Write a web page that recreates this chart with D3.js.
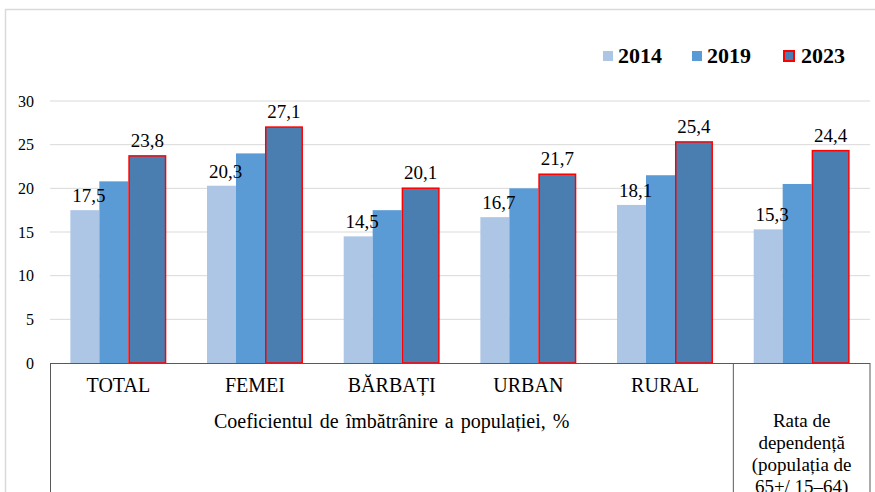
<!DOCTYPE html>
<html>
<head>
<meta charset="utf-8">
<script src="https://cdn.jsdelivr.net/npm/d3@7"></script>
<style>
  body { margin: 0; background: #fff; }
  svg { display: block; font-family: "Liberation Serif", "Times New Roman", serif; }
</style>
</head>
<body>
<svg id="chart" width="875" height="492"></svg>
<script>
// data
var categories = ["TOTAL", "FEMEI", "BĂRBAȚI", "URBAN", "RURAL", "Rata"];
var years = ["2014", "2019", "2023"];
var values2014 = [17.5, 20.3, 14.5, 16.7, 18.1, 15.3];
var values2019 = [20.8, 24.0, 17.5, 20.0, 21.5, 20.5];
var values2023 = [23.8, 27.1, 20.1, 21.7, 25.4, 24.4];
var yTicks = [0, 5, 10, 15, 20, 25, 30];
var groupTitle = "Coeficientul de îmbătrânire a populației, %";
var rataLines = ["Rata de", "dependență", "(populația de", "65+/ 15–64)"];

var series = [values2014, values2019, values2023];
var colors = ["#adc6e6", "#5b9bd5", "#4a7db0"];
var labelled = [true, false, true];

var svg = d3.select("#chart");
// note: "top" is taken by window.top, so plotTop
var left = 50, right = 870, plotTop = 101, base = 363;

/* outer chart frame (only top and left visible) */
svg.append("line").attr("x1", 5).attr("x2", 875).attr("y1", 9.5).attr("y2", 9.5)
    .attr("stroke", "#d9d9d9").attr("stroke-width", 1.5);
svg.append("line").attr("x1", 5.5).attr("x2", 5.5).attr("y1", 9).attr("y2", 492)
    .attr("stroke", "#d9d9d9").attr("stroke-width", 1.5);

var x0 = d3.scaleBand().domain(categories).range([left, right]).padding(0);
var y = d3.scaleLinear().domain([0, 30]).range([base, plotTop]);

// gridlines + tick labels
svg.append("g").selectAll("line").data(yTicks.filter(function (t) { return t > 0; }))
    .enter().append("line")
    .attr("x1", left).attr("x2", right)
    .attr("y1", function (d) { return y(d); }).attr("y2", function (d) { return y(d); })
    .attr("stroke", "#d9d9d9").attr("stroke-width", 1);

svg.append("g").selectAll("text").data(yTicks).enter().append("text")
    .attr("x", 34).attr("y", function (d) { return y(d) + 5.5; })
    .attr("text-anchor", "end").attr("font-size", 16).attr("fill", "#000")
    .text(function (d) { return d; });

/* bar widths inside a band: two narrow + one wide (2023) */
var bw = x0.bandwidth();
var widths = [0.212 * bw, 0.212 * bw, 0.278 * bw];
var groupW = d3.sum(widths);
function barX(cat, s) {
    return x0(cat) + (bw - groupW) / 2 + d3.sum(widths.slice(0, s));
}

var barsG = svg.append("g"), labelsG = svg.append("g");
series.forEach(function (vals, s) {
    barsG.append("g").selectAll("rect").data(vals).enter().append("rect")
        .attr("x", function (d, i) { return barX(categories[i], s) + (s == 2 ? 0.75 : 0); })
        .attr("width", widths[s] - (s == 2 ? 1.5 : 0))
        .attr("y", function (d) { return y(d) + (s == 2 ? 0.75 : 0); })
        .attr("height", function (d) { return base - y(d) - (s == 2 ? 0.75 : 0); })
        .attr("fill", colors[s])
        .attr("stroke", s == 2 ? "#ff0000" : "none")
        .attr("stroke-width", s == 2 ? 1.5 : 0);

    // labels go in their own group so they sit over the neighbouring bars
    if (labelled[s]) {
        labelsG.append("g").selectAll("text").data(vals).enter().append("text")
            .attr("x", function (d, i) { return barX(categories[i], s) + widths[s] / 2 + (s == 0 ? 4 : 0); })
            .attr("y", function (d) { return y(d) - 8; })
            .attr("text-anchor", "middle").attr("font-size", 19).attr("fill", "#000")
            .text(function (d) { return d3.format(".1f")(d).replace(".", ","); });
    }
});

// table under the axis
var divX = x0("Rata");
var tbl = svg.append("g").attr("stroke", "#595959").attr("stroke-width", 1).attr("fill", "none");
tbl.append("line").attr("x1", left).attr("x2", right).attr("y1", base + 0.5).attr("y2", base + 0.5);
[left + 0.5, divX, right].forEach(function (xx) {
    tbl.append("line").attr("x1", xx).attr("x2", xx).attr("y1", base).attr("y2", 492);
});

svg.append("g").selectAll("text").data(categories.slice(0, 5)).enter().append("text")
    .attr("x", function (d) { return x0(d) + bw / 2; })
    .attr("y", 392).attr("text-anchor", "middle").attr("font-size", 20)
    .text(function (d) { return d; });

svg.append("text").attr("x", (left + divX) / 2).attr("y", 428)
    .attr("text-anchor", "middle").attr("font-size", 20).attr("word-spacing", 2)
    .text(groupTitle);

svg.append("g").selectAll("text").data(rataLines).enter().append("text")
    .attr("x", (divX + right) / 2).attr("y", function (d, i) { return 427 + i * 22; })
    .attr("text-anchor", "middle").attr("font-size", 19)
    .text(function (d) { return d; });

// legend
var legX = [603, 692, 783];
var leg = svg.append("g").selectAll("g").data(years).enter().append("g")
    .attr("transform", function (d, i) { return "translate(" + legX[i] + ",0)"; });
leg.append("rect")
    .attr("x", function (d, i) { return i == 2 ? 1 : 0; })
    .attr("y", 51)
    .attr("width", 10)
    .attr("height", 10)
    .attr("fill", function (d, i) { return colors[i]; })
    .attr("stroke", function (d, i) { return i == 2 ? "#ff0000" : "none"; })
    .attr("stroke-width", 2);
leg.append("text").attr("x", function (d, i) { return i == 2 ? 18 : 15; }).attr("y", 63)
    .attr("font-size", 22).attr("font-weight", "bold").text(function (d) { return d; });
</script>
</body>
</html>
